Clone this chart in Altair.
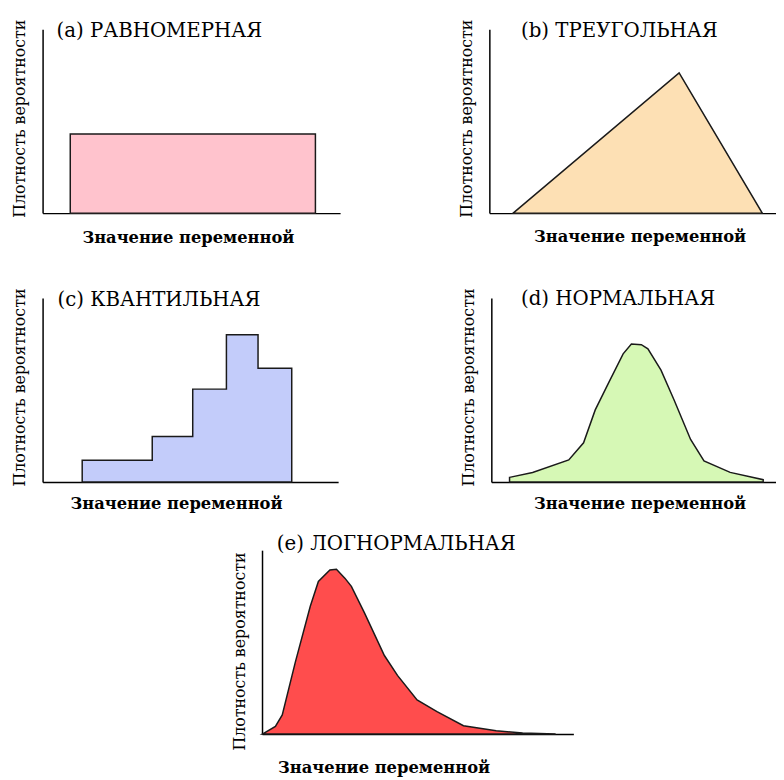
import altair as alt
import pandas as pd

FONT = "DejaVu Serif"
Y_TITLE = "Плотность вероятности"
X_TITLE = "Значение переменной"

# (a) uniform
uni_x0 = [0.93]
uni_x1 = [9.17]
uni_h = [0.43]

# (b) triangular
tri_x = [0.83, 6.62, 9.52]
tri_y = [0.0, 0.763, 0.0]

# (c) quantile (step) distribution
q_edges = [1.34, 3.71, 5.08, 6.22, 7.29, 8.43]
q_heights = [0.118, 0.247, 0.505, 0.801, 0.618]

# (d) normal
norm_x = [0.64, 1.45, 2.72, 3.24, 3.65, 4.11, 4.63, 4.92, 5.27, 5.50, 5.96, 6.42, 7.00, 7.47, 8.39, 9.55]
norm_y = [0.025, 0.052, 0.12, 0.213, 0.392, 0.536, 0.697, 0.751, 0.747, 0.724, 0.608, 0.446, 0.231, 0.115, 0.052, 0.0125]

# (e) lognormal
logn_x = [0.01, 0.43, 0.65, 1.07, 1.55, 1.81, 2.18, 2.39, 2.66, 2.87, 3.29, 3.93, 4.35, 4.98, 5.62, 6.47, 7.52, 8.37, 9.43]
logn_y = [0.0, 0.041, 0.104, 0.391, 0.695, 0.830, 0.892, 0.896, 0.848, 0.803, 0.659, 0.427, 0.319, 0.185, 0.122, 0.045, 0.018, 0.005, 0.0]

# panel titles
titles = ["(a) РАВНОМЕРНАЯ", "(b) ТРЕУГОЛЬНАЯ", "(c) КВАНТИЛЬНАЯ", "(d) НОРМАЛЬНАЯ", "(e) ЛОГНОРМАЛЬНАЯ"]

STROKE = "#1a1a1a"
H = 186


def x_enc(field, tx, ty):
    return alt.X(
        field,
        scale=alt.Scale(domain=[0, 10], nice=False, zero=False),
        axis=alt.Axis(
            title=X_TITLE, labels=False, ticks=False, grid=False,
            domainColor="black", domainWidth=1.5,
            titleX=tx, titleY=ty, titleAlign="center", titleBaseline="middle",
            titleFont=FONT, titleFontSize=16.5, titleFontWeight="bold", titleColor="black",
        ),
    )


def y_enc(field, ty):
    return alt.Y(
        field,
        scale=alt.Scale(domain=[0, 1], nice=False),
        axis=alt.Axis(
            title=Y_TITLE, labels=False, ticks=False, grid=False,
            domainColor="black", domainWidth=1.5,
            titleX=-23, titleY=ty, titleAngle=270, titleAlign="center", titleBaseline="middle",
            titleFont=FONT, titleFontSize=16, titleFontWeight="normal", titleColor="black",
        ),
    )


def title_layer(text, dx, dy):
    return alt.Chart(pd.DataFrame({"label": [text]})).mark_text(
        align="left", baseline="alphabetic", font=FONT, fontSize=20, color="black"
    ).encode(text="label:N", x=alt.value(dx), y=alt.value(dy))


def panel(base, W, text, dx, dy):
    return alt.layer(base, title_layer(text, dx, dy)).properties(width=W, height=H)


df_a = pd.DataFrame({"x0": uni_x0, "x1": uni_x1, "h": uni_h, "base": [0.0] * len(uni_h)})
ba = alt.Chart(df_a).mark_rect(fill="#FFC3CD", stroke=STROKE, strokeWidth=1.5).encode(
    x=x_enc("x0:Q", 147, 25), x2="x1:Q", y=y_enc("h:Q", 90), y2="base:Q"
)
pa = panel(ba, 301, titles[0], 14, 8)

df_b = pd.DataFrame({"x": tri_x, "y": tri_y})
bb = alt.Chart(df_b).mark_area(fill="#FDE0B4", stroke=STROKE, strokeWidth=1.5).encode(
    x=x_enc("x:Q", 152, 24), y=y_enc("y:Q", 90)
)
pb = panel(bb, 290, titles[1], 32, 7.5)

df_c = pd.DataFrame({"x": q_edges, "y": q_heights + [q_heights[-1]]})
bc = alt.Chart(df_c).mark_area(fill="#C3CCFA", stroke=STROKE, strokeWidth=1.5, interpolate="step-after").encode(
    x=x_enc("x:Q", 135, 22), y=y_enc("y:Q", 90)
)
pc = panel(bc, 299, titles[2], 15, 7.5)

df_d = pd.DataFrame({"x": norm_x, "y": norm_y})
bd = alt.Chart(df_d).mark_area(fill="#D6F8B5", stroke=STROKE, strokeWidth=1.5).encode(
    x=x_enc("x:Q", 150, 22), y=y_enc("y:Q", 90)
)
pd_ = panel(bd, 288, titles[3], 30, 6.5)

df_e = pd.DataFrame({"x": logn_x, "y": logn_y})
be = alt.Chart(df_e).mark_area(fill="#FF4D4D", stroke=STROKE, strokeWidth=1.5).encode(
    x=x_enc("x:Q", 123, 34), y=y_enc("y:Q", 102)
)
pe = panel(be, 315, titles[4], 15, -0.5)

spacer = alt.Chart(pd.DataFrame({"v": [0]})).mark_point(opacity=0).encode(
    x=alt.value(0), y=alt.value(0)
).properties(width=202, height=H)

row1 = alt.hconcat(pa, pb, spacing=151, bounds="flush")
row2 = alt.hconcat(pc, pd_, spacing=155, bounds="flush")
row3 = alt.hconcat(spacer, pe, spacing=20, bounds="flush")

top = alt.vconcat(row1, row2, spacing=41)
chart = alt.vconcat(top, row3, spacing=21).properties(
    padding={"left": 3, "top": 6, "right": 0, "bottom": 0}
).configure_view(stroke=None)

chart.save("out.html", embed_options={"renderer": "svg", "actions": False})
